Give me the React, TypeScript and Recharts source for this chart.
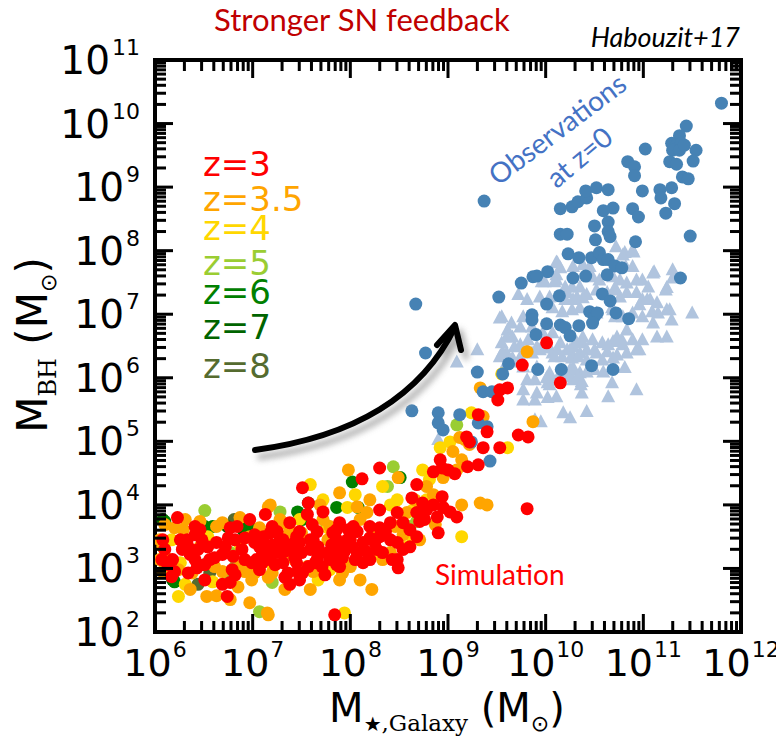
import React from 'react';
import { ScatterChart, Scatter, XAxis, YAxis } from 'recharts';

// Black hole mass vs galaxy stellar mass, log-log.
// Every point is stored as [log10 M_star, log10 M_BH].

const W = 776;
const H = 739;

const X_DECADES = [6, 7, 8, 9, 10, 11, 12];
const Y_DECADES = [2, 3, 4, 5, 6, 7, 8, 9, 10, 11];
const MINOR_STEPS = [2, 3, 4, 5, 6, 7, 8, 9];

const Z_LABELS = ['z=3', 'z=3.5', 'z=4', 'z=5', 'z=6', 'z=7', 'z=8'];
const Z_COLORS = ['#ff0000', '#ffa500', '#ffd700', '#9acd32', '#008000', '#006400', '#556b2f'];
const Z_BASELINES = [176, 211, 240, 275, 304, 339, 378];

const OBS_CIRCLE = '#4682b4';
const OBS_TRIANGLE = '#b0c4de';

const obsCircles = [
  [11.8, 10.32], [11.44, 9.96], [11.37, 9.81], [11.29, 9.69], [11.34, 9.66], [11.39, 9.69],
  [11.3, 9.58], [11.37, 9.58], [11.42, 9.66], [11.54, 9.58], [11.02, 9.6], [10.84, 9.4],
  [10.91, 9.32], [10.91, 9.18], [11.27, 9.4], [11.34, 9.36], [11.51, 9.41], [11.4, 9.16],
  [11.46, 9.13], [9.37, 8.78], [10.15, 8.66], [10.27, 8.69], [10.33, 8.77], [10.42, 8.83],
  [10.41, 8.94], [10.52, 8.99], [10.64, 8.96], [10.69, 8.67], [10.59, 8.63], [10.89, 8.66],
  [10.95, 8.53], [10.99, 8.94], [11.17, 8.96], [11.18, 8.83], [11.23, 8.59], [11.29, 8.99],
  [11.32, 8.74], [10.64, 8.45], [10.64, 8.3], [10.66, 8.22], [10.5, 8.39], [10.51, 8.17],
  [10.15, 8.26], [10.22, 8.26], [10.92, 8.14], [11.48, 8.23], [10.23, 7.95], [10.34, 7.89],
  [10.47, 7.89], [10.55, 7.97], [10.59, 7.86], [10.64, 7.86], [10.63, 7.62], [10.71, 7.76],
  [10.78, 7.73], [11.38, 7.57], [10.02, 7.67], [9.87, 7.59], [9.91, 7.6], [9.75, 7.49],
  [9.52, 7.27], [10.28, 7.57], [10.41, 7.6], [10.14, 7.29], [10.58, 7.32], [10.66, 7.21],
  [10.01, 7.16], [9.86, 6.99], [9.86, 6.91], [10.45, 7.04], [10.5, 6.96], [10.53, 7.02],
  [10.72, 7.02], [10.85, 6.93], [10.01, 6.85], [10.15, 6.83], [10.2, 6.79], [10.25, 6.66],
  [10.34, 6.82], [9.9, 6.68], [10.47, 6.19], [10.16, 6.13], [9.92, 6.13], [10.69, 6.13],
  [9.62, 6.22], [9.56, 6.06], [8.67, 7.16], [8.77, 6.39], [9.3, 6.09], [8.63, 5.48],
  [8.9, 5.45], [8.9, 5.29], [8.95, 5.18], [9.12, 5.42], [9.36, 5.78], [9.45, 5.78],
  [9.31, 5.29], [9.4, 5.23], [9.24, 4.99], [9.43, 4.69], [10.48, 6.86],
];

const obsTriangles = [
  [10.72, 8.06], [10.81, 7.97], [10.9, 7.98], [10.11, 7.82], [10.15, 7.73], [10.28, 7.75],
  [10.45, 7.75], [10.82, 7.75], [10.89, 7.75], [11.11, 7.67], [11.3, 7.7], [11.3, 7.57],
  [9.72, 7.31], [9.96, 7.51], [10.11, 7.54], [10.2, 7.43], [10.27, 7.43], [10.35, 7.43],
  [10.48, 7.59], [10.55, 7.54], [10.69, 7.59], [10.76, 7.54], [10.83, 7.49], [10.93, 7.54],
  [10.99, 7.54], [11.05, 7.43], [11.23, 7.38], [9.81, 7.23], [9.94, 7.27], [10.04, 7.27],
  [10.22, 7.34], [10.32, 7.27], [10.42, 7.31], [10.52, 7.38], [10.63, 7.34], [10.71, 7.38],
  [10.83, 7.34], [10.93, 7.34], [10.99, 7.23], [11.07, 7.23], [11.14, 7.18], [11.24, 7.07],
  [11.5, 7.02], [9.55, 6.96], [9.77, 6.96], [10.07, 7.1], [10.17, 7.04], [10.27, 7.07],
  [10.35, 7.1], [10.52, 7.02], [10.69, 7.07], [10.79, 6.96], [10.89, 7.02], [10.99, 6.96],
  [11.1, 6.86], [11.29, 6.91], [9.65, 6.86], [9.61, 6.75], [9.74, 6.8], [9.86, 6.8],
  [9.97, 6.71], [10.07, 6.71], [10.15, 6.55], [10.22, 6.44], [10.28, 6.49], [10.38, 6.55],
  [10.48, 6.6], [10.58, 6.55], [10.69, 6.57], [10.79, 6.52], [10.89, 6.6], [10.99, 6.6],
  [11.14, 6.64], [11.24, 6.64], [9.55, 6.55], [9.6, 6.64], [9.68, 6.49], [9.74, 6.52],
  [9.81, 6.44], [9.91, 6.49], [9.6, 6.39], [9.66, 6.31], [10.07, 6.39], [10.17, 6.33],
  [10.27, 6.36], [10.35, 6.39], [10.42, 6.44], [10.52, 6.39], [10.63, 6.41], [10.73, 6.36],
  [10.83, 6.39], [10.93, 6.44], [9.3, 6.44], [9.09, 6.25], [9.6, 6.24], [9.77, 6.17],
  [9.91, 6.17], [10.04, 6.08], [10.15, 6.08], [10.25, 6.13], [10.35, 6.08], [10.42, 6.09],
  [10.5, 6.13], [10.59, 6.09], [10.81, 6.16], [9.81, 5.97], [9.89, 5.97], [10.02, 5.92],
  [10.07, 5.97], [10.2, 6.02], [10.28, 5.97], [10.37, 5.94], [10.68, 5.92], [10.93, 5.81],
  [10.37, 5.76], [9.77, 5.81], [9.91, 5.76], [9.77, 5.65], [9.89, 5.65], [10.02, 5.69],
  [10.11, 5.7], [10.64, 5.7], [10.42, 5.47], [10.18, 5.45], [10.25, 5.37], [9.89, 5.34],
  [10.12, 7.81], [10.38, 7.78], [10.79, 7.93], [10.89, 8.01], [11.1, 7.65], [11.24, 7.42],
  [10.71, 7.42], [9.99, 7.51], [10.2, 7.23], [10.28, 7.23], [10.38, 7.26], [10.76, 7.27],
  [10.68, 7.1], [10.71, 6.96], [10.96, 7.15], [11.04, 7.23], [11.15, 7.02], [11.09, 7.04],
  [11.27, 7.07], [10.96, 6.44], [10.83, 6.75], [10.78, 6.6], [10.73, 6.64], [10.64, 6.52],
  [10.5, 6.44], [10.38, 6.64], [10.32, 6.55], [10.25, 6.44], [10.01, 6.47], [10.09, 6.33],
  [10.12, 6.44], [10.27, 6.31], [10.33, 6.33], [10.42, 6.28], [10.58, 6.28], [10.69, 6.31],
  [10.23, 6.05], [10.33, 6.02], [10.36, 5.89], [9.95, 5.31], [9.53, 6.94], [9.66, 6.64],
  [9.56, 6.41], [9.82, 6.6], [9.74, 6.33], [9.86, 6.39], [9.94, 6.44], [10.01, 6.0],
  [10.04, 5.89], [8.9, 5.03], [10.11, 7.62], [10.09, 7.51], [9.53, 6.33], [9.66, 6.25],
  [10.28, 6.16],
];

const simZ3 = [
  [6.23, 3.8], [6.41, 3.66], [6.41, 3.53], [7.51, 4.27], [7.57, 4.03], [7.56, 3.85],
  [7.72, 3.89], [7.38, 3.72], [7.2, 3.66], [7.25, 3.58], [6.84, 3.66], [6.77, 3.64],
  [7.02, 3.53], [6.1, 3.3], [6.07, 3.14], [6.28, 3.3], [6.34, 3.34], [6.33, 3.45],
  [6.48, 3.45], [6.44, 3.3], [6.54, 3.34], [6.63, 3.41], [6.72, 3.34], [6.69, 3.22],
  [6.82, 3.45], [6.92, 3.48], [6.89, 3.3], [6.8, 3.19], [7.02, 3.41], [7.1, 3.27],
  [7.04, 3.14], [7.2, 3.37], [7.26, 3.27], [7.16, 3.22], [6.18, 3.14], [6.13, 3.06],
  [6.2, 2.95], [6.43, 3.01], [6.51, 3.06], [6.56, 3.14], [6.79, 2.98], [6.17, 2.87],
  [6.41, 3.14], [6.34, 2.93], [6.99, 3.09], [7.1, 3.09], [7.33, 3.27], [7.43, 3.17],
  [7.5, 3.25], [7.43, 3.41], [7.59, 3.45], [7.67, 3.34], [7.77, 3.25], [7.31, 3.09],
  [7.36, 2.93], [7.46, 2.95], [7.57, 3.03], [7.64, 3.09], [7.33, 2.86], [7.38, 2.75],
  [7.71, 3.03], [7.79, 3.14], [7.86, 3.06], [7.92, 3.17], [8.02, 3.34], [7.98, 3.61],
  [7.86, 3.61], [6.82, 2.9], [6.77, 2.78], [6.74, 2.56], [7.84, 2.27], [7.97, 3.45],
  [10.15, 5.92], [9.53, 5.81], [9.61, 5.84], [9.51, 5.65], [9.31, 5.42], [9.4, 5.15],
  [9.36, 4.9], [9.19, 5.07], [9.22, 4.99], [9.53, 4.9], [9.72, 5.1], [9.82, 5.07],
  [9.31, 4.63], [9.2, 4.6], [8.92, 4.71], [8.94, 4.58], [9.0, 4.55], [9.07, 4.49],
  [8.85, 4.52], [8.3, 4.58], [8.12, 4.41], [8.68, 4.32], [8.63, 4.11], [8.94, 4.13],
  [8.85, 4.0], [8.74, 4.03], [8.78, 3.92], [8.95, 3.96], [9.02, 3.89], [9.09, 3.81],
  [8.3, 3.92], [8.48, 3.88], [8.68, 3.88], [8.71, 3.74], [8.89, 3.81], [8.9, 3.56],
  [8.41, 3.72], [8.54, 3.72], [8.2, 3.66], [8.3, 3.64], [8.03, 3.66], [8.07, 3.58],
  [7.89, 3.72], [7.82, 3.56], [7.66, 3.58], [7.62, 3.45], [8.3, 3.5], [8.41, 3.45],
  [8.48, 3.41], [8.0, 3.45], [8.13, 3.41], [8.2, 3.48], [7.86, 3.45], [7.92, 3.34],
  [7.45, 3.5], [7.48, 3.41], [7.31, 3.45], [7.18, 3.56], [7.07, 3.34], [7.11, 3.5],
  [8.68, 3.5], [8.54, 3.3], [8.61, 3.34], [8.27, 3.3], [8.33, 3.25], [8.07, 3.25],
  [7.86, 3.25], [7.59, 3.3], [8.13, 3.09], [8.2, 3.14], [8.48, 3.14], [8.49, 3.01],
  [7.89, 3.03], [7.45, 3.09], [7.66, 3.14], [7.51, 2.93], [7.25, 3.25], [7.18, 3.14],
  [9.81, 3.94], [10.01, 6.55], [9.76, 6.2],
  [7.13, 3.37], [7.28, 3.45], [7.4, 3.33], [7.48, 3.58], [7.67, 3.2], [7.81, 3.37],
  [7.94, 3.27], [7.74, 2.9], [8.05, 3.14], [8.16, 3.27], [8.25, 3.41], [8.36, 3.58],
  [8.43, 3.14], [8.61, 3.61], [8.76, 3.77], [6.75, 3.48], [6.61, 3.17], [6.36, 3.22],
  [6.26, 3.45], [6.08, 3.45], [6.92, 3.14], [7.07, 2.98], [7.23, 3.06], [6.51, 2.82],
  [6.69, 2.75], [7.48, 2.82], [7.61, 3.69], [6.46, 3.61], [6.97, 3.77], [7.13, 3.85],
];

const simZ35 = [
  [7.98, 4.55], [7.89, 4.19], [7.18, 4.0], [6.69, 3.72], [6.46, 3.74], [7.07, 3.64],
  [6.2, 3.64], [6.05, 3.45], [6.29, 3.61], [7.33, 3.5], [7.5, 3.56], [6.08, 2.95],
  [6.24, 2.98], [6.38, 2.93], [6.61, 3.03], [6.69, 2.95], [6.92, 2.95], [7.02, 2.93],
  [7.2, 2.93], [7.16, 2.86], [6.53, 2.56], [6.63, 2.57], [6.85, 2.71], [6.99, 2.82],
  [6.97, 2.46], [7.16, 2.27], [7.43, 3.14], [7.77, 3.45], [7.84, 3.3], [7.91, 3.03],
  [8.49, 4.43], [8.78, 4.29], [9.05, 4.84], [9.14, 4.71], [9.09, 4.55], [9.22, 4.95],
  [9.17, 5.03], [9.36, 5.39], [9.33, 5.84], [9.87, 5.31], [8.95, 4.43], [7.16, 3.97],
  [8.07, 3.97], [8.17, 3.88], [9.33, 4.03], [9.4, 4.0], [9.14, 4.0], [8.85, 4.16],
  [8.58, 3.88], [8.54, 3.53], [8.23, 3.56], [7.72, 3.77], [7.79, 3.66], [7.38, 3.61],
  [7.31, 3.72], [6.97, 3.5], [6.87, 3.03], [8.33, 3.14], [8.41, 3.25], [8.22, 2.67],
  [7.56, 3.03], [7.62, 2.95], [7.72, 2.95], [7.92, 2.93], [8.0, 3.03], [7.15, 2.3],
  [6.15, 3.14], [6.08, 3.34], [6.46, 3.34], [6.63, 3.66], [9.81, 6.41], [9.12, 5.06],
  [6.1, 3.69], [6.31, 3.77], [6.87, 3.8], [7.28, 3.77], [7.69, 4.0], [8.1, 3.77],
  [8.46, 3.66], [8.71, 3.45], [8.87, 3.69], [8.66, 4.08], [8.2, 4.08], [7.89, 2.82],
  [7.33, 2.67], [6.77, 2.51], [6.36, 2.67], [6.05, 3.14], [8.1, 2.82], [7.59, 2.67],
];

const simZ4 = [
  [7.59, 4.32], [7.72, 4.08], [7.97, 3.96], [6.17, 3.45], [6.54, 3.5], [6.24, 2.56],
  [6.59, 2.79], [7.67, 2.82], [7.94, 2.3], [7.02, 2.95], [7.77, 3.64], [7.98, 3.03],
  [8.33, 4.29], [8.41, 4.0], [8.48, 4.08], [8.74, 4.55], [8.92, 4.9], [9.02, 4.99],
  [9.24, 5.45], [9.61, 4.9], [9.14, 3.5], [8.64, 3.92], [8.78, 4.08], [8.58, 3.34],
  [8.64, 3.48], [7.21, 3.03], [7.79, 2.98], [6.26, 3.09], [7.38, 3.25], [8.27, 3.25],
  [9.55, 6.06], [6.31, 2.75], [6.87, 3.37], [7.48, 3.77], [8.05, 4.16], [8.81, 4.4],
];

const simZ5 = [
  [6.51, 3.91], [7.28, 3.89], [7.76, 3.67], [7.07, 2.32], [7.2, 2.78], [6.82, 3.03],
  [6.43, 3.61], [8.44, 4.6], [9.09, 5.26], [8.38, 4.29], [6.77, 3.25], [8.61, 3.66],
  [8.68, 3.74], [6.74, 2.93],
];

const simZ6 = [
  [7.46, 3.89], [7.86, 3.96], [8.02, 4.36], [6.1, 3.74], [6.51, 3.66], [6.59, 3.66],
  [6.94, 3.64], [6.2, 2.79], [8.51, 4.43], [8.08, 3.96], [7.57, 4.03], [7.51, 3.77],
  [6.97, 3.64], [6.51, 3.06],
];

const simZ7 = [[6.08, 3.77], [6.74, 3.66], [6.18, 2.82], [6.9, 3.61]];

const simZ8 = [[6.81, 3.77], [6.44, 2.75], [6.56, 2.93]];

const toPoints = (arr: number[][]) => arr.map(([lx, ly]) => ({ x: 10 ** lx, y: 10 ** ly }));

const withMinors = (decades: number[]) => {
  const out: number[] = [];
  decades.forEach((d, i) => {
    out.push(10 ** d);
    if (i < decades.length - 1) MINOR_STEPS.forEach((m) => out.push(m * 10 ** d));
  });
  return out;
};

const X_TICKS = withMinors(X_DECADES);
const Y_TICKS = withMinors(Y_DECADES);

const NUM_FONT = '"DejaVu Sans", sans-serif';
const TEXT_FONT = 'Lato, "Open Sans", sans-serif';
const SERIF = '"DejaVu Serif", "Liberation Serif", serif';

const isMajor = (v: number) => {
  const l = Math.log10(v);
  return Math.abs(l - Math.round(l)) < 1e-6;
};

// inward ticks on every side, labels only on bottom/left decades
function makeTick(side: 'bottom' | 'top' | 'left' | 'right') {
  return (props: any) => {
    const { x, y, payload } = props;
    const v = payload.value;
    const major = isMajor(v);
    const len = major ? 18 : 11;
    const exp = Math.round(Math.log10(v));
    let line;
    if (side === 'bottom') line = <line x1={x} x2={x} y1={y} y2={y - len} />;
    else if (side === 'top') line = <line x1={x} x2={x} y1={y} y2={y + len} />;
    else if (side === 'left') line = <line x1={x} x2={x + len} y1={y} y2={y} />;
    else line = <line x1={x} x2={x - len} y1={y} y2={y} />;
    return (
      <g>
        <g stroke="#000" strokeWidth={3}>{line}</g>
        {major && side === 'bottom' && (
          <text x={x} y={y + 44} textAnchor="middle" fontFamily={NUM_FONT} fontSize={38} fill="#000">
            <tspan>10</tspan>
            <tspan dx={1} dy={-19} fontSize={22}>{exp}</tspan>
          </text>
        )}
        {major && side === 'left' && (
          <text x={x - 15} y={y + 14} textAnchor="end" fontFamily={NUM_FONT} fontSize={39} fill="#000">
            <tspan>10</tspan>
            <tspan dx={2} dy={-19} fontSize={22}>{exp}</tspan>
          </text>
        )}
      </g>
    );
  };
}

const dot = (color: string) => (p: any) => <circle cx={p.cx} cy={p.cy} r={6.5} fill={color} />;
const tri = (color: string) => (p: any) => (
  <polygon
    points={`${p.cx},${p.cy - 7.5} ${p.cx - 7},${p.cy + 5.5} ${p.cx + 7},${p.cy + 5.5}`}
    fill={color}
  />
);

const axisLine = { stroke: '#000', strokeWidth: 4, strokeLinecap: 'square' as const };

function Annotations() {
  return (
    <svg
      width={W}
      height={H}
      style={{ position: 'absolute', left: 0, top: 0, pointerEvents: 'none' }}
    >
      <defs>
        <filter id="soft" x="-20%" y="-20%" width="140%" height="140%">
          <feGaussianBlur stdDeviation={3} />
        </filter>
      </defs>
      <text x={362} y={31} textAnchor="middle" fontFamily={TEXT_FONT} fontSize={31} fill="#c00000">
        Stronger SN feedback
      </text>
      <text x={740} y={47} textAnchor="end" fontFamily={TEXT_FONT} fontStyle="italic" fontSize={27} fill="#000">
        Habouzit+17
      </text>

      {Z_LABELS.map((label, i) => (
        <text key={label} x={203} y={Z_BASELINES[i]} fontFamily={NUM_FONT} fontSize={34} fill={Z_COLORS[i]}>
          {label}
        </text>
      ))}

      <text
        x={558}
        y={139}
        textAnchor="middle"
        transform="rotate(-37 558 130)"
        fontFamily={TEXT_FONT}
        fontSize={28}
        fill="#4472c4"
      >
        Observations
      </text>
      <text
        x={580}
        y={167}
        textAnchor="middle"
        transform="rotate(-40 580 158)"
        fontFamily={TEXT_FONT}
        fontSize={28}
        fill="#4472c4"
      >
        at z=0
      </text>
      <text x={435} y={585} fontFamily={TEXT_FONT} fontSize={28} fill="#ff0000">
        Simulation
      </text>

      {/* curved arrow with soft drop shadow */}
      <g fill="none" strokeLinecap="round" strokeLinejoin="round">
        <g transform="translate(5 7)" stroke="#9a9a9a" strokeWidth={6} filter="url(#soft)" opacity={0.8}>
          <path d="M 255 450 Q 405 430 455 327" />
          <path d="M 437 345 L 455 325 L 461 350" />
        </g>
        <g stroke="#000" strokeWidth={6}>
          <path d="M 255 450 Q 405 430 455 327" />
          <path d="M 437 345 L 455 325 L 461 350" />
        </g>
      </g>

      <text
        x={47}
        y={345}
        textAnchor="middle"
        transform="rotate(-90 47 345)"
        fontFamily={NUM_FONT}
        fontSize={42}
        fill="#000"
      >
        <tspan>M</tspan>
        <tspan fontFamily={SERIF} fontSize={24} dy={9}>BH</tspan>
        <tspan dy={-9}> (M</tspan>
        <tspan fontSize={22} dy={9}>⊙</tspan>
        <tspan dy={-9}>)</tspan>
      </text>
      <text x={447} y={722} textAnchor="middle" fontFamily={NUM_FONT} fontSize={40} fill="#000">
        <tspan>M</tspan>
        <tspan fontSize={20} dy={9}>★</tspan>
        <tspan fontFamily={SERIF} fontSize={23}>,Galaxy</tspan>
        <tspan dy={-9}> (M</tspan>
        <tspan fontSize={22} dy={9}>⊙</tspan>
        <tspan dy={-9}>)</tspan>
      </text>
    </svg>
  );
}

export default function App() {
  const simBack = [
    { key: 'z8', pts: simZ8, color: Z_COLORS[6] },
    { key: 'z7', pts: simZ7, color: Z_COLORS[5] },
    { key: 'z6', pts: simZ6, color: Z_COLORS[4] },
    { key: 'z5', pts: simZ5, color: Z_COLORS[3] },
    { key: 'z4', pts: simZ4, color: Z_COLORS[2] },
    { key: 'z35', pts: simZ35, color: Z_COLORS[1] },
  ];

  return (
    <div style={{ position: 'absolute', left: 0, top: 0, width: W, height: H, background: '#fff' }}>
      <ScatterChart width={W} height={H} margin={{ top: 59, right: 34, bottom: 0, left: 0 }}>
        <XAxis
          xAxisId="main"
          dataKey="x"
          type="number"
          scale="log"
          domain={[1e6, 1e12]}
          allowDataOverflow
          ticks={X_TICKS}
          interval={0}
          height={107}
          tickSize={0}
          tickMargin={0}
          axisLine={axisLine}
          tick={makeTick('bottom')}
        />
        <XAxis
          xAxisId="top"
          orientation="top"
          dataKey="x"
          type="number"
          scale="log"
          domain={[1e6, 1e12]}
          allowDataOverflow
          ticks={X_TICKS}
          interval={0}
          height={1}
          tickSize={0}
          tickMargin={0}
          axisLine={axisLine}
          tick={makeTick('top')}
        />
        <YAxis
          yAxisId="main"
          dataKey="y"
          type="number"
          scale="log"
          domain={[1e2, 1e11]}
          allowDataOverflow
          ticks={Y_TICKS}
          interval={0}
          width={155}
          tickSize={0}
          tickMargin={0}
          axisLine={axisLine}
          tick={makeTick('left')}
        />
        <YAxis
          yAxisId="right"
          orientation="right"
          dataKey="y"
          type="number"
          scale="log"
          domain={[1e2, 1e11]}
          allowDataOverflow
          ticks={Y_TICKS}
          interval={0}
          width={1}
          tickSize={0}
          tickMargin={0}
          axisLine={axisLine}
          tick={makeTick('right')}
        />

        <Scatter
          xAxisId="top"
          yAxisId="right"
          data={[{ x: 1e6, y: 1e2 }]}
          shape={() => <g />}
          isAnimationActive={false}
        />
        <Scatter
          xAxisId="main"
          yAxisId="main"
          data={toPoints(obsTriangles)}
          shape={tri(OBS_TRIANGLE)}
          isAnimationActive={false}
        />
        {simBack.map((s) => (
          <Scatter
            key={s.key}
            xAxisId="main"
            yAxisId="main"
            data={toPoints(s.pts)}
            shape={dot(s.color)}
            isAnimationActive={false}
          />
        ))}
        <Scatter
          xAxisId="main"
          yAxisId="main"
          data={toPoints(obsCircles)}
          shape={dot(OBS_CIRCLE)}
          isAnimationActive={false}
        />
        <Scatter
          xAxisId="main"
          yAxisId="main"
          data={toPoints(simZ3)}
          shape={dot(Z_COLORS[0])}
          isAnimationActive={false}
        />
      </ScatterChart>
      <Annotations />
    </div>
  );
}
